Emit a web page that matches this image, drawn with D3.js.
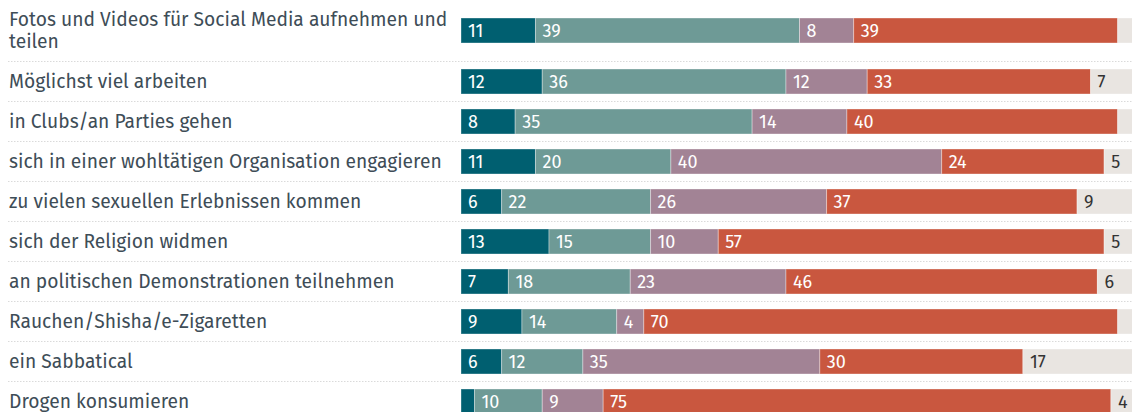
<!DOCTYPE html>
<html>
<head>
<meta charset="utf-8">
<script src="https://cdn.jsdelivr.net/npm/d3@7"></script>
<style>
  html, body { margin: 0; padding: 0; background: #fff; }
  svg { display: block; }
</style>
</head>
<body>
<svg id="chart" width="1132" height="412"></svg>
<script>
const categories = [
  "Fotos und Videos für Social Media aufnehmen und teilen",
  "Möglichst viel arbeiten",
  "in Clubs/an Parties gehen",
  "sich in einer wohltätigen Organisation engagieren",
  "zu vielen sexuellen Erlebnissen kommen",
  "sich der Religion widmen",
  "an politischen Demonstrationen teilnehmen",
  "Rauchen/Shisha/e-Zigaretten",
  "ein Sabbatical",
  "Drogen konsumieren"
];
const seriesKeys = ["s1", "s2", "s3", "s4", "s5"];
const s1 = [11, 12, 8, 11, 6, 13, 7, 9, 6, 2];
const s2 = [39, 36, 35, 20, 22, 15, 18, 14, 12, 10];
const s3 = [8, 12, 14, 40, 26, 10, 23, 4, 35, 9];
const s4 = [39, 33, 40, 24, 37, 57, 46, 70, 30, 75];
const s5 = [3, 7, 3, 5, 9, 5, 6, 3, 17, 4];
const colors = ["#005f70", "#6e9a96", "#a28395", "#c9573f", "#e9e5e1"];
const textColors = ["#ffffff", "#ffffff", "#ffffff", "#ffffff", "#333333"];

const svg = d3.select("#chart");
const W = 1132;
const fontFamily = "'Fira Sans', 'Noto Sans', 'Open Sans', sans-serif";

// measure text to fit label font size
const canvas = document.createElement("canvas");
const ctx = canvas.getContext("2d");
function measure(t, size) { ctx.font = size + "px " + fontFamily; return ctx.measureText(t).width; }
const refWidth = 433;
const longest = "sich in einer wohltätigen Organisation engagieren";
let labelSize = 17 * refWidth / measure(longest, 17);
labelSize = Math.min(20, Math.max(15, labelSize));
const maxLabelW = 446;

function wrap(text) {
  const words = text.split(" ");
  const lines = [];
  let cur = "";
  words.forEach(w => {
    const t = cur ? cur + " " + w : w;
    if (measure(t, labelSize) > maxLabelW && cur) { lines.push(cur); cur = w; }
    else cur = t;
  });
  if (cur) lines.push(cur);
  return lines;
}

const data = categories.map((c, i) => ({
  cat: c,
  lines: wrap(c),
  vals: [s1[i], s2[i], s3[i], s4[i], s5[i]]
}));

// layout: each row 40px + 22px per extra label line
let yCursor = -0.5;
data.forEach(d => {
  d.top = yCursor;
  d.h = 40 + 22 * (d.lines.length - 1);
  yCursor += d.h;
});

const x = d3.scaleLinear().domain([0, 100]).range([461, 1138]);
const barH = 25;

// separators
svg.append("g").selectAll("line")
  .data(data.slice(1))
  .join("line")
  .attr("x1", 8).attr("x2", W)
  .attr("y1", d => d.top).attr("y2", d => d.top)
  .attr("stroke", "#dadada")
  .attr("stroke-width", 1)
  .attr("stroke-dasharray", "1.5,1.5");

const rows = svg.append("g").selectAll("g.row")
  .data(data)
  .join("g")
  .attr("class", "row")
  .attr("transform", d => `translate(0,${d.top + d.h / 2})`);

// labels
rows.append("text")
  .attr("x", 9)
  .attr("fill", "#3e4d57")
  .style("font-family", fontFamily)
  .style("font-size", labelSize + "px")
  .each(function(d) {
    const n = d.lines.length;
    d3.select(this).selectAll("tspan")
      .data(d.lines)
      .join("tspan")
      .attr("x", 9)
      .attr("y", (l, j) => 6.5 + (j - (n - 1) / 2) * 22.5)
      .text(l => l);
  });

// segments
rows.each(function(d) {
  const g = d3.select(this);
  let acc = 0;
  const segs = d.vals.map((v, k) => { const s = { v, k, x0: acc, x1: acc + v }; acc += v; return s; });
  g.selectAll("rect")
    .data(segs)
    .join("rect")
    .attr("x", s => x(s.x0))
    .attr("width", s => Math.max(0, x(s.x1) - x(s.x0)))
    .attr("y", -barH / 2)
    .attr("height", barH)
    .attr("fill", s => colors[s.k])
    .attr("stroke", "rgba(255,255,255,0.35)")
    .attr("stroke-width", 1);
  g.selectAll("text.val")
    .data(segs.filter(s => s.v >= 4))
    .join("text")
    .attr("class", "val")
    .attr("x", s => x(s.x0) + 7)
    .attr("y", 6.5)
    .attr("fill", s => textColors[s.k])
    .style("font-family", fontFamily)
    .style("font-size", "18px")
    .text(s => s.v);
});
</script>
</body>
</html>
